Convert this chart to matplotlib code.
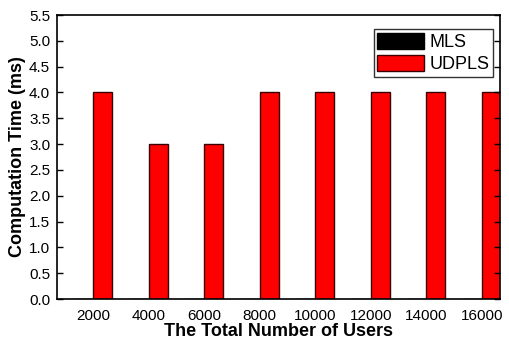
import numpy as np
import matplotlib
matplotlib.use('Agg')
import matplotlib.pyplot as plt

plt.rcParams['font.family'] = ['Liberation Sans', 'DejaVu Sans']

users = ['2000', '4000', '6000', '8000', '10000', '12000', '14000', '16000']
mls = [0, 0, 0, 0, 0, 0, 0, 0]
udpls = [4, 3, 3, 4, 4, 4, 4, 4]

fig = plt.figure(figsize=(5.1, 3.41), dpi=100)
ax = fig.add_axes([0.112, 0.123, 0.868, 0.833])

x = np.arange(len(users))
w = 0.34
ax.bar(x, mls, -w, align='edge', color='black', edgecolor='black', linewidth=1, label='MLS')
ax.bar(x, udpls, w, align='edge', color='#ff0000', edgecolor='#3a0000', linewidth=1, label='UDPLS')

ax.set_xlim(-0.65, 7.32)
ax.set_ylim(0, 5.5)
ax.set_yticks(np.arange(0, 5.51, 0.5))
ax.set_xticks(x)
ax.set_xticklabels(users)
ax.tick_params(direction='in', top=True, right=True, labelsize=11, length=4, width=1)
ax.tick_params(axis='x', length=0, pad=7)
ax.tick_params(axis='y', pad=5)
ax.set_xlabel('The Total Number of Users', fontsize=13, fontweight='bold', labelpad=0)
ax.set_ylabel('Computation Time (ms)', fontsize=13, fontweight='bold', labelpad=2)
for s in ax.spines.values():
    s.set_linewidth(1.2)

leg = ax.legend(loc='upper right', fontsize=13, frameon=True, fancybox=False,
                edgecolor='black', handlelength=2.6, handleheight=1.0,
                bbox_to_anchor=(0.985, 0.95),
                borderaxespad=0.0, borderpad=0.2, labelspacing=0.2, handletextpad=0.3)
leg.get_frame().set_linewidth(1)

fig.savefig('out.png', dpi=100)
